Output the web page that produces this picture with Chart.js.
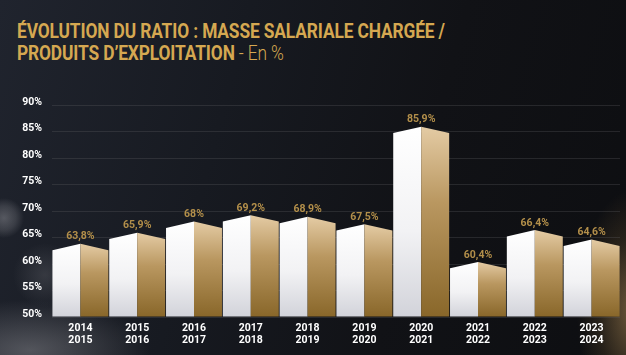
<!DOCTYPE html>
<html>
<head>
<meta charset="utf-8">
<script src="https://cdn.jsdelivr.net/npm/chart.js@4.4.1/dist/chart.umd.min.js"></script>
<style>
  html,body{margin:0;padding:0;}
  body{
    width:626px;height:355px;overflow:hidden;position:relative;
    background:
      radial-gradient(circle at 4px 218px, rgba(190,190,195,0.35) 0, rgba(190,190,195,0.18) 12px, rgba(0,0,0,0) 20px),
      radial-gradient(circle at 45px 275px, rgba(160,160,165,0.2) 0, rgba(0,0,0,0) 32px),
      radial-gradient(ellipse 120px 50px at 30px 350px, rgba(150,150,155,0.45) 0, rgba(0,0,0,0) 100%),
      radial-gradient(ellipse 55px 120px at 632px 310px, rgba(170,135,85,0.6) 0, rgba(100,78,45,0.3) 60%, rgba(0,0,0,0) 100%),
      linear-gradient(105deg, #20242e 0%, #171a21 35%, #111216 65%, #0d0e11 100%);
  }
  #title{
    position:absolute;left:17px;top:21px;
    font-family:Roboto, sans-serif;font-weight:700;font-size:19.5px;line-height:22px;
    color:#d5a851;letter-spacing:-0.15px;white-space:nowrap;
    transform:scaleX(0.89);transform-origin:0 0;
  }
  #title .light{font-weight:300;}
  #c{position:absolute;left:0;top:0;}
</style>
</head>
<body>
<div id="title">ÉVOLUTION DU RATIO : MASSE SALARIALE CHARGÉE /<br>PRODUITS D’EXPLOITATION<span class="light"> - En %</span></div>
<canvas id="c" width="626" height="355"></canvas>
<script>
const categories = [
  ['2014','2015'],['2015','2016'],['2016','2017'],['2017','2018'],['2018','2019'],
  ['2019','2020'],['2020','2021'],['2021','2022'],['2022','2023'],['2023','2024']
];
const ratioValues = [63.8, 65.9, 68, 69.2, 68.9, 67.5, 85.9, 60.4, 66.4, 64.6];
const yTicks = [50, 55, 60, 65, 70, 75, 80, 85, 90];

function fmt(v){ return String(v).replace('.', ',') + '%'; }

const prismBars = {
  id: 'prismBars',
  afterDatasetsDraw(chart){
    const ctx = chart.ctx;
    const meta = chart.getDatasetMeta(0);
    ctx.save();
    meta.data.forEach((bar, i) => {
      const p = bar.getProps(['x','y','base','width'], true);
      const x = p.x, y = p.y, base = p.base, w = p.width;
      const l = x - w/2, r = x + w/2;
      const drop = 6.3;
      let g = ctx.createLinearGradient(0, y, 0, base);
      g.addColorStop(0, '#ffffff');
      g.addColorStop(0.55, '#f2f2f4');
      g.addColorStop(1, '#d2d3da');
      ctx.beginPath();
      ctx.moveTo(l, base); ctx.lineTo(l, y + drop); ctx.lineTo(x, y); ctx.lineTo(x, base);
      ctx.closePath(); ctx.fillStyle = g; ctx.fill();
      g = ctx.createLinearGradient(0, y, 0, base);
      g.addColorStop(0, '#e4cba4');
      g.addColorStop(0.4, '#b99760');
      g.addColorStop(1, '#89672a');
      ctx.beginPath();
      ctx.moveTo(x, base); ctx.lineTo(x, y); ctx.lineTo(r, y + drop); ctx.lineTo(r, base);
      ctx.closePath(); ctx.fillStyle = g; ctx.fill();
      ctx.fillStyle = '#b38f4a';
      ctx.font = 'bold 10.5px Roboto';
      ctx.textAlign = 'center';
      ctx.textBaseline = 'middle';
      ctx.fillText(fmt(ratioValues[i]), x, y - 7);
    });
    ctx.restore();
  }
};

new Chart(document.getElementById('c'), {
  type: 'bar',
  data: {
    labels: categories,
    datasets: [{
      data: ratioValues,
      base: 50,
      backgroundColor: 'rgba(0,0,0,0)',
      borderWidth: 0,
      barPercentage: 0.985,
      categoryPercentage: 1
    }]
  },
  options: {
    responsive: false,
    animation: false,
    events: [],
    layout: { padding: { top: 105, right: 6, left: 0, bottom: 0 } },
    plugins: { legend: { display: false }, tooltip: { enabled: false }, title: { display: false } },
    scales: {
      x: {
        afterFit(s){ s.height = 38; },
        grid: { display: false, drawTicks: false },
        border: { display: false },
        ticks: {
          color: '#ffffff', padding: 5,
          font: { family: 'Roboto', weight: 'bold', size: 10.5, lineHeight: 1.15 },
          maxRotation: 0, autoSkip: false
        }
      },
      y: {
        z: 1,
        min: 50, max: 90,
        afterFit(s){ s.width = 52; },
        afterBuildTicks(s){ s.ticks = yTicks.map(v => ({ value: v })); },
        grid: { color: 'rgba(100,100,105,0.28)', lineWidth: 1, drawTicks: false },
        border: { display: false },
        ticks: {
          color: '#ffffff', padding: 10, labelOffset: -3,
          font: { family: 'Roboto', weight: 'bold', size: 10.5 },
          callback: v => v + '%'
        }
      }
    }
  },
  plugins: [prismBars]
});
</script>
</body>
</html>
